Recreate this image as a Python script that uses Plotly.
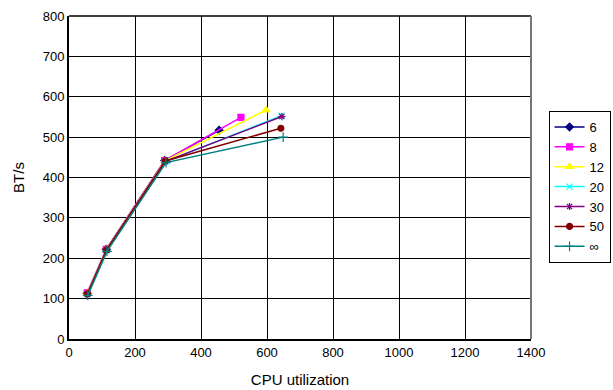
import plotly.graph_objects as go

series_names = ["6", "8", "12", "20", "30", "50", "∞"]
cpu = [
    [55, 113, 290, 455],
    [55, 113, 290, 521],
    [55, 113, 291, 597],
    [56, 114, 292, 644],
    [56, 114, 292, 645],
    [56, 114, 292, 642],
    [57, 115, 294, 649],
]
bts = [
    [113, 222, 442, 517],
    [114, 222, 442, 549],
    [112, 221, 441, 567],
    [110, 219, 439, 553],
    [111, 220, 440, 551],
    [112, 221, 441, 522],
    [108, 217, 437, 500],
]
colors = ["#000080", "#FF00FF", "#FFFF00", "#00FFFF", "#800080", "#800000", "#008080"]
symbols = ["diamond", "square", "triangle-up", "x-thin-open", "asterisk-open", "circle", "cross-thin-open"]
sizes = [6, 6, 7, 6, 6, 6, 7]

fig = go.Figure()
for name, xs, ys, c, s, sz in zip(series_names, cpu, bts, colors, symbols, sizes):
    fig.add_trace(go.Scatter(
        x=xs, y=ys, name=name, mode="lines+markers",
        line=dict(color=c, width=1.5),
        marker=dict(symbol=s, size=sz, color=c, line=dict(color=c, width=1.2)),
    ))

font = "Liberation Sans, Arial, sans-serif"
fig.update_layout(
    width=613, height=390,
    margin=dict(l=69, r=82, t=16, b=51, autoexpand=False),
    paper_bgcolor="white", plot_bgcolor="white",
    font=dict(family=font, size=13, color="black"),
    showlegend=True,
    legend=dict(
        x=1.038, y=0.706, xanchor="left", yanchor="top",
        bordercolor="black", borderwidth=1, bgcolor="white",
        font=dict(size=13), itemwidth=30, tracegroupgap=0,
    ),
    xaxis=dict(
        range=[0, 1400], dtick=200, tick0=0,
        showgrid=True, gridcolor="black", gridwidth=1,
        showline=True, linecolor="black", linewidth=2,
        zeroline=False, ticks="", ticklen=0,
        title=dict(text="CPU utilization", font=dict(size=15), standoff=16),
        tickfont=dict(size=13),
    ),
    yaxis=dict(
        range=[0, 800], dtick=100, tick0=0,
        showgrid=True, gridcolor="black", gridwidth=1,
        showline=True, linecolor="black", linewidth=2,
        zeroline=False, ticks="", ticklen=0,
        title=dict(text="BT/s", font=dict(size=15), standoff=14),
        tickfont=dict(size=13),
    ),
)
fig.add_shape(type="line", xref="paper", yref="paper", x0=0, x1=1, y0=1, y1=1,
              line=dict(color="black", width=1.5))
fig.add_shape(type="line", xref="paper", yref="paper", x0=1, x1=1, y0=0, y1=1,
              line=dict(color="#777777", width=2))
fig.write_html("out.html")
